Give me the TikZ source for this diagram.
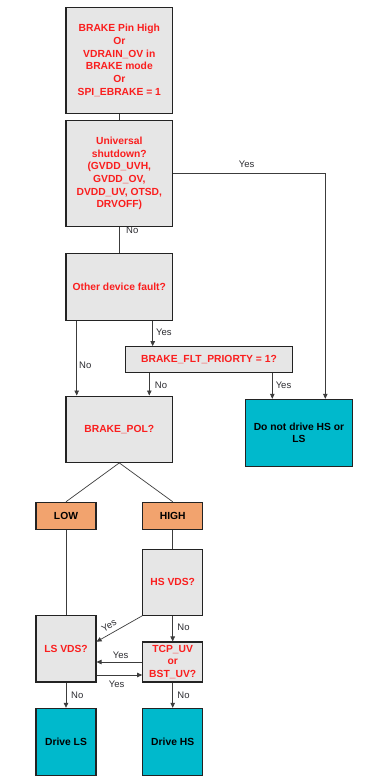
\documentclass[tikz,border=0pt]{standalone}
\usepackage{fontspec}
\setmainfont{Liberation Sans}
\usetikzlibrary{arrows.meta,calc}
\definecolor{boxgray}{RGB}{230,230,230}
\definecolor{redtxt}{RGB}{250,30,30}
\definecolor{tealbox}{RGB}{0,185,204}
\definecolor{orangebox}{RGB}{242,163,110}
\definecolor{edgecol}{RGB}{35,35,35}
\definecolor{linecol}{RGB}{60,60,60}
\definecolor{lblcol}{RGB}{45,45,50}
\tikzset{
  basebox/.style={draw=edgecol, line width=1.1pt, rectangle, inner sep=1pt, align=center,
     font=\fontsize{10.3}{12.7}\selectfont\bfseries},
  qbox/.style={basebox, fill=boxgray, text=redtxt},
  endbox/.style={basebox, fill=tealbox, text=black},
  polbox/.style={basebox, fill=orangebox, text=black},
  conn/.style={draw=linecol, line width=0.7pt},
  arr/.style={conn, -{Triangle[length=5pt,width=4.5pt]}},
  lbl/.style={font=\fontsize{9.5}{11}\selectfont, text=lblcol, inner sep=0pt}
}
\begin{document}
\begin{tikzpicture}[x=1pt,y=-1pt]
\useasboundingbox[fill=white] (0,0) rectangle (378,781);

\node[qbox, minimum width=106.7pt, minimum height=106.3pt] (b1) at (119.3,60.5)
  {BRAKE Pin High\\Or\\VDRAIN\_OV in\\BRAKE mode\\Or\\SPI\_EBRAKE = 1};
\node[qbox, minimum width=106.7pt, minimum height=106.3pt] (b2) at (119.3,173.5)
  {Universal\\shutdown?\\(GVDD\_UVH,\\GVDD\_OV,\\DVDD\_UV, OTSD,\\DRVOFF)};
\node[qbox, minimum width=106.7pt, minimum height=66.7pt] (b3) at (119.3,286.7)
  {Other device fault?};
\node[qbox, minimum width=167.3pt, minimum height=26pt] (flt) at (209,359.7)
  {BRAKE\_FLT\_PRIORTY = 1?};
\node[endbox, minimum width=106.7pt, minimum height=66.7pt] (dnd) at (299,432.7)
  {Do not drive HS or\\LS};
\node[qbox, minimum width=106.7pt, minimum height=66.3pt] (pol) at (119.3,429.2)
  {BRAKE\_POL?};
\node[polbox, minimum width=60pt, minimum height=27pt] (low) at (66,515.8) {LOW};
\node[polbox, minimum width=60pt, minimum height=27pt] (high) at (172.7,515.8) {HIGH};
\node[qbox, minimum width=60pt, minimum height=66pt] (hs) at (172.7,582.3) {HS VDS?};
\node[qbox, minimum width=60pt, minimum height=66.3pt] (ls) at (66,648.8) {LS VDS?};
\node[qbox, minimum width=60pt, minimum height=40pt] (tcp) at (172.7,662) {TCP\_UV\\or\\BST\_UV?};
\node[endbox, minimum width=60pt, minimum height=66.7pt] (dls) at (66,741.7) {Drive LS};
\node[endbox, minimum width=60pt, minimum height=66.7pt] (dhs) at (172.7,741.7) {Drive HS};

% connectors
\draw[conn] (b1.south) -- (b2.north);
\coordinate (dndin) at ([xshift=26.3pt]dnd.north);
\draw[arr] (b2.east) -| (dndin);
\node[lbl] (lyes1) at (246.7,164.3) {Yes};
\draw[conn] (b2.south) -- (b3.north);
\node[lbl] (lno1) at (132.3,230) {No};

\coordinate (b3no) at ([xshift=-42.6pt]b3.south);
\draw[arr] (b3no) -- (b3no |- pol.north);
\node[lbl] (lno2) at (85.3,365) {No};
\coordinate (b3yes) at ([xshift=33.4pt]b3.south);
\draw[arr] (b3yes) -- (b3yes |- flt.north);
\node[lbl] (lyes2) at (163.8,332.7) {Yes};

\coordinate (fltno) at ([xshift=30pt]pol.north);
\draw[arr] (fltno |- flt.south) -- (fltno);
\node[lbl] (lno3) at (161,385) {No};
\coordinate (fltyes) at ([xshift=-26.7pt]dnd.north);
\draw[arr] (fltyes |- flt.south) -- (fltyes);
\node[lbl] (lyes3) at (283.5,385) {Yes};

\draw[conn] (pol.south) -- (low.north);
\draw[conn] (pol.south) -- (high.north);
\draw[conn] (low.south) -- (ls.north);
\draw[conn] (high.south) -- (hs.north);

\coordinate (lsin1) at ([yshift=7.1pt]ls.east);
\draw[arr] (hs.south west) -- (lsin1);
\node[lbl, rotate=29.5] (lyes4) at (109,625.5) {Yes};
\draw[arr] (hs.south) -- (tcp.north);
\node[lbl] (lno4) at (183.5,627.7) {No};

\draw[arr] (tcp.west) -- (tcp.west -| ls.east);
\node[lbl] (lyes5) at (120.7,655.7) {Yes};
\coordinate (lsout) at ([yshift=-26.2pt]ls.east);
\draw[arr] (lsout) -- (lsout -| tcp.west);
\node[lbl] (lyes6) at (116.7,684.3) {Yes};

\draw[arr] (ls.south) -- (dls.north);
\node[lbl] (lno5) at (77.3,695) {No};
\draw[arr] (tcp.south) -- (dhs.north);
\node[lbl] (lno6) at (183.5,695) {No};
\end{tikzpicture}
\end{document}
